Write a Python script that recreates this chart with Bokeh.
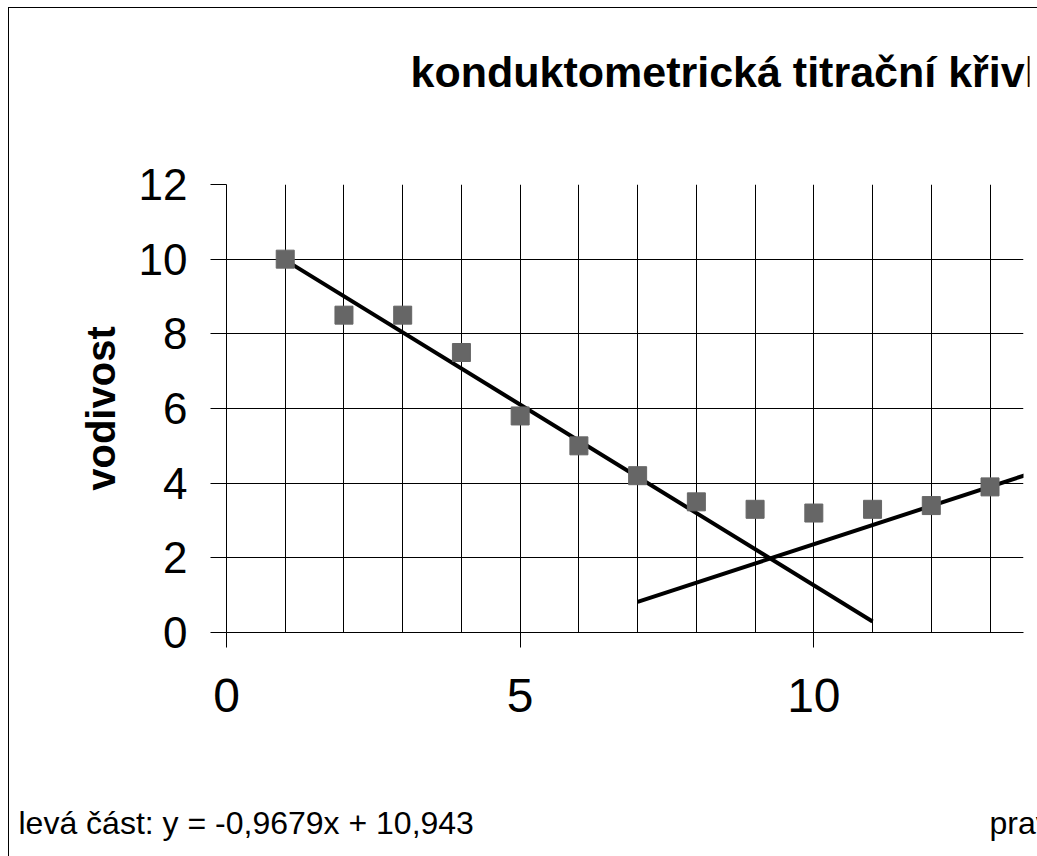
from bokeh.plotting import figure
from bokeh.layouts import column
from bokeh.models import Range1d, FixedTicker, Grid
from bokeh.core.properties import value
from bokeh.embed import file_html
from bokeh.resources import INLINE

# ---- data ----
titrant = [1, 2, 3, 4, 5, 6, 7, 8, 9, 10, 11, 12, 13]
conductivity = [10.0, 8.5, 8.5, 7.5, 5.8, 5.0, 4.2, 3.5, 3.3, 3.2, 3.3, 3.4, 3.9]

left_fit_x = [1, 11]
left_fit_y = [9.975, 0.296]      # y = -0,9679x + 10,943
right_fit_x = [7, 14]
right_fit_y = [0.82, 4.42]

x_ticks = [0, 5, 10]
x_grid = [0, 1, 2, 3, 4, 5, 6, 7, 8, 9, 10, 11, 12, 13]
y_ticks = [0, 2, 4, 6, 8, 10, 12]

title_text = "konduktometrická titrační křivka"
y_title = "vodivost"
left_eq = "levá část: y = -0,9679x + 10,943"
right_eq = "pravá část: y = 0,5154x - 2,7943"

FONT = "Liberation Sans"

W = 1028                 # content width inside the left border
H_TOP, H_MAIN, H_BOT = 120, 648, 80
XMAX, YMAX = 13.57, 12


def text_strip(h, right=0):
    f = figure(width=W, height=h, x_range=Range1d(0, W - right), y_range=Range1d(0, h),
               output_backend="svg", toolbar_location=None, title=None,
               x_axis_location=None, y_axis_location=None, min_border=0,
               min_border_right=right, frame_align=False)
    f.center = [r for r in f.center if not isinstance(r, Grid)]
    f.outline_line_color = None
    f.background_fill_color = "white"
    f.border_fill_color = "white"
    return f


# ---- title strip ----
top = text_strip(H_TOP, right=8)
top.text(x=[401], y=[H_TOP - 63], text=[title_text], text_font=value(FONT),
         text_font_style="bold", text_font_size="43px", text_color="black",
         text_baseline="alphabetic", text_align="left")

# ---- main chart ----
p = figure(width=W, height=H_MAIN, x_range=Range1d(0, XMAX), y_range=Range1d(0, YMAX),
           output_backend="svg", toolbar_location=None, title=None, frame_align=False,
           min_border_left=217, min_border_right=14, min_border_top=56, min_border_bottom=144)
p.outline_line_color = None
p.background_fill_color = "white"
p.border_fill_color = "white"

p.xgrid.ticker = FixedTicker(ticks=x_grid)
p.ygrid.ticker = FixedTicker(ticks=y_ticks)
for g in (p.xgrid, p.ygrid):
    g.grid_line_color = "black"
    g.grid_line_width = 1
    g.grid_line_alpha = 1

p.xaxis.ticker = FixedTicker(ticks=x_ticks)
p.yaxis.ticker = FixedTicker(ticks=y_ticks)
p.xaxis.minor_tick_line_color = None
p.yaxis.minor_tick_line_color = None
for ax in (p.xaxis, p.yaxis):
    ax.axis_line_color = "black"
    ax.axis_line_width = 1
    ax.major_tick_line_color = "black"
    ax.major_tick_in = 0
    ax.major_label_text_font = FONT
    ax.major_label_text_color = "black"
p.xaxis.major_tick_out = 15
p.yaxis.major_tick_out = 16
p.xaxis.major_label_text_font_size = "48px"
p.yaxis.major_label_text_font_size = "44px"
p.xaxis.major_label_standoff = 31
p.yaxis.major_label_standoff = 23

p.yaxis.axis_label = y_title
p.yaxis.axis_label_text_font = FONT
p.yaxis.axis_label_text_font_style = "bold"
p.yaxis.axis_label_text_font_size = "40px"
p.yaxis.axis_label_text_color = "black"
p.yaxis.axis_label_standoff = 13

p.line(left_fit_x, left_fit_y, line_color="black", line_width=4)
p.line(right_fit_x, right_fit_y, line_color="black", line_width=4)
p.scatter(titrant, conductivity, marker="square", size=18,
          fill_color="#666666", line_color="#666666")

# ---- equation strip ----
bot = text_strip(H_BOT)
bot.text(x=[9, 980], y=[H_BOT - 46, H_BOT - 46], text=[left_eq, right_eq],
         text_font=value(FONT), text_font_size="32px", text_color="black",
         text_baseline="alphabetic", text_align="left")

layout = column(top, p, bot, spacing=0,
                styles={"margin-left": "8px", "margin-top": "7px",
                        "border-left": "1px solid black", "border-top": "1px solid black"})

open("out.html", "w").write(file_html(layout, INLINE))
